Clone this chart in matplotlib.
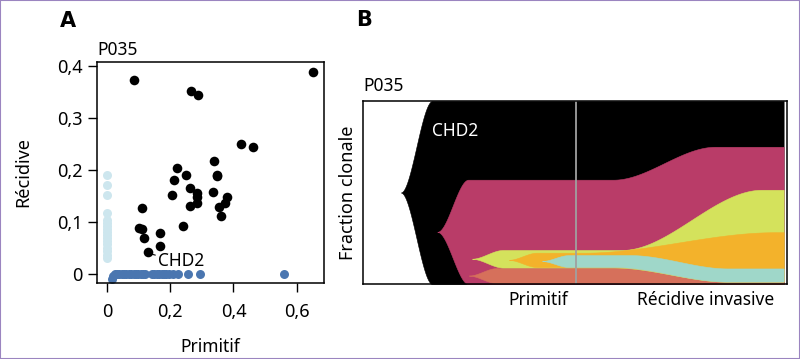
import numpy as np
import matplotlib
matplotlib.use('Agg')
import matplotlib.pyplot as plt
from matplotlib.patches import Rectangle

plt.rcParams['font.family'] = ['Noto Sans', 'DejaVu Sans']

# --- panel A : VAF primitif vs recidive ---
black_x = [0.086, 0.265, 0.287, 0.423, 0.463, 0.340, 0.221, 0.251, 0.347, 0.349,
           0.213, 0.262, 0.206, 0.285, 0.285, 0.284, 0.264, 0.334, 0.379, 0.372,
           0.353, 0.362, 0.112, 0.103, 0.112, 0.117, 0.240, 0.167, 0.167, 0.129, 0.652]
black_y = [0.372, 0.351, 0.343, 0.250, 0.243, 0.216, 0.2035, 0.191, 0.191, 0.188,
           0.180, 0.166, 0.151, 0.155, 0.148, 0.137, 0.130, 0.158, 0.147, 0.136,
           0.129, 0.111, 0.127, 0.088, 0.087, 0.070, 0.093, 0.078, 0.054, 0.043, 0.387]

light_y = [0.19, 0.171, 0.152, 0.118, 0.104, 0.098, 0.092, 0.087, 0.081, 0.075,
           0.069, 0.063, 0.057, 0.05, 0.044, 0.037, 0.031]
light_x = [0.0] * len(light_y)

blue_x = [0.016, 0.02, 0.025, 0.032, 0.04, 0.047, 0.055, 0.062, 0.07, 0.077, 0.085,
          0.092, 0.1, 0.107, 0.115, 0.122, 0.142, 0.15, 0.158, 0.165, 0.173, 0.18,
          0.188, 0.195, 0.21, 0.226, 0.258, 0.293, 0.56]
blue_y = [-0.01, -0.004] + [0.0] * 27

x_ticks = [0, 0.2, 0.4, 0.6]
x_ticklabels = ['0', '0,2', '0,4', '0,6']
y_ticks = [0, 0.1, 0.2, 0.3, 0.4]
y_ticklabels = ['0', '0,1', '0,2', '0,3', '0,4']

# --- panel B : fish plot ---
clones = ['CHD2', 'clone 2', 'clone 6', 'clone 3', 'clone 4', 'clone 5']
clone_colors = ['#000000', '#b93c68', '#d6705b', '#d4e25c', '#f3b22b', '#9fd7c9']
emerge_x = [8.9, 17.5, 24.9, 25.6, 34.3, 42.1]
full_x = [16.3, 24.8, 31.5, 33.0, 41.0, 48.5]
lo_prim = [0, 0, 0.5, 9.0, 9.3, 9.3]
hi_prim = [100, 57, 8.7, 18.6, 17.1, 15.8]
lo_rel = [0, 0, 0.0, 1.3, 1.3, 1.3]
hi_rel = [100, 75, 1.2, 51.5, 28.3, 8.5]
hi_t0 = [55, 59, 59, 61, 52, 63]
hi_t1 = [95, 83, 86, 94, 97, 86]
t_prim = 50.2
t_rel = 99.2
time_labels = ['Primitif', 'Récidive invasive']
time_label_x = [41.4, 80.8]


def smooth(t):
    t = np.clip(t, 0, 1)
    return 3 * t ** 2 - 2 * t ** 3


def band(i, xs):
    c = (lo_prim[i] + hi_prim[i]) / 2
    s = smooth((xs - emerge_x[i]) / (full_x[i] - emerge_x[i]))
    lo = c + (lo_prim[i] - c) * s
    hi = c + (hi_prim[i] - c) * s
    sh = smooth((xs - hi_t0[i]) / (hi_t1[i] - hi_t0[i]))
    sl = smooth((xs - 59) / (86 - 59))
    lo = lo + (lo_rel[i] - lo_prim[i]) * sl
    hi = hi + (hi_rel[i] - hi_prim[i]) * sh
    return lo, hi


fig = plt.figure(figsize=(8, 3.59), dpi=100)

ax = fig.add_axes([0.12125, 0.2117, 0.28375, 0.6156])
ax.scatter(light_x, light_y, s=42, color='#cde6ee', linewidths=0, zorder=2)
ax.scatter(blue_x, blue_y, s=42, color='#4a76b0', linewidths=0, zorder=2)
ax.scatter(black_x, black_y, s=48, color='black', linewidths=0, zorder=3)
ax.set_xlim(-0.031, 0.686)
ax.set_ylim(-0.0173, 0.407)
ax.set_xticks(x_ticks)
ax.set_xticklabels(x_ticklabels)
ax.set_yticks(y_ticks)
ax.set_yticklabels(y_ticklabels)
ax.tick_params(axis='both', length=6.5, width=1, labelsize=13)
ax.tick_params(axis='x', pad=8)
ax.tick_params(axis='y', pad=4)
for sp in ax.spines.values():
    sp.set_linewidth(1.1)
ax.set_xlabel('Primitif', fontsize=12.5, labelpad=12)
ax.set_ylabel('Récidive', fontsize=13, labelpad=18)
ax.text(0, 1.015, 'P035', transform=ax.transAxes, fontsize=12.5, ha='left', va='bottom')
ax.annotate('CHD2', xy=(black_x[29] + 0.006, black_y[29] - 0.004), xytext=(0.162, 0.024),
            fontsize=12.5, ha='left', va='center',
            arrowprops=dict(arrowstyle='-', color='black', lw=0.8, shrinkA=0, shrinkB=0))

bx = fig.add_axes([0.4538, 0.2089, 0.5300, 0.5097])
xs = np.linspace(0, t_rel, 800)
for i in range(len(clones)):
    lo, hi = band(i, xs)
    m = xs >= emerge_x[i]
    bx.fill_between(xs[m], lo[m], hi[m], color=clone_colors[i], linewidth=0.4,
                    edgecolor=clone_colors[i], zorder=2 + i)
bx.axvline(t_prim, color='#a0a0a0', lw=1.3, zorder=10)
bx.set_xlim(0, 100)
bx.set_ylim(0, 100)
bx.set_xticks([])
bx.set_yticks([])
for sp in bx.spines.values():
    sp.set_linewidth(1.1)
    sp.set_zorder(11)
bx.set_ylabel('Fraction clonale', fontsize=13, labelpad=4)
bx.text(16.2, 83.8, 'CHD2', color='white', fontsize=12.5, ha='left', va='center', zorder=12)
for lab, lx in zip(time_labels, time_label_x):
    bx.text(lx, -9, lab, fontsize=12.5, ha='center', va='center')
bx.text(0, 1.035, 'P035', transform=bx.transAxes, fontsize=12.5, ha='left', va='bottom')

fig.text(68 / 800, 1 - 21 / 359, 'A', fontsize=15, fontweight='bold',
         family='DejaVu Sans', ha='center', va='center')
fig.text(364 / 800, 1 - 20 / 359, 'B', fontsize=15, fontweight='bold',
         family='DejaVu Sans', ha='center', va='center')

fig.patches.append(Rectangle((0, 0), 1, 1, transform=fig.transFigure, fill=False,
                             edgecolor='#9b85c0', linewidth=1.5))

fig.savefig('out.png', dpi=100)
